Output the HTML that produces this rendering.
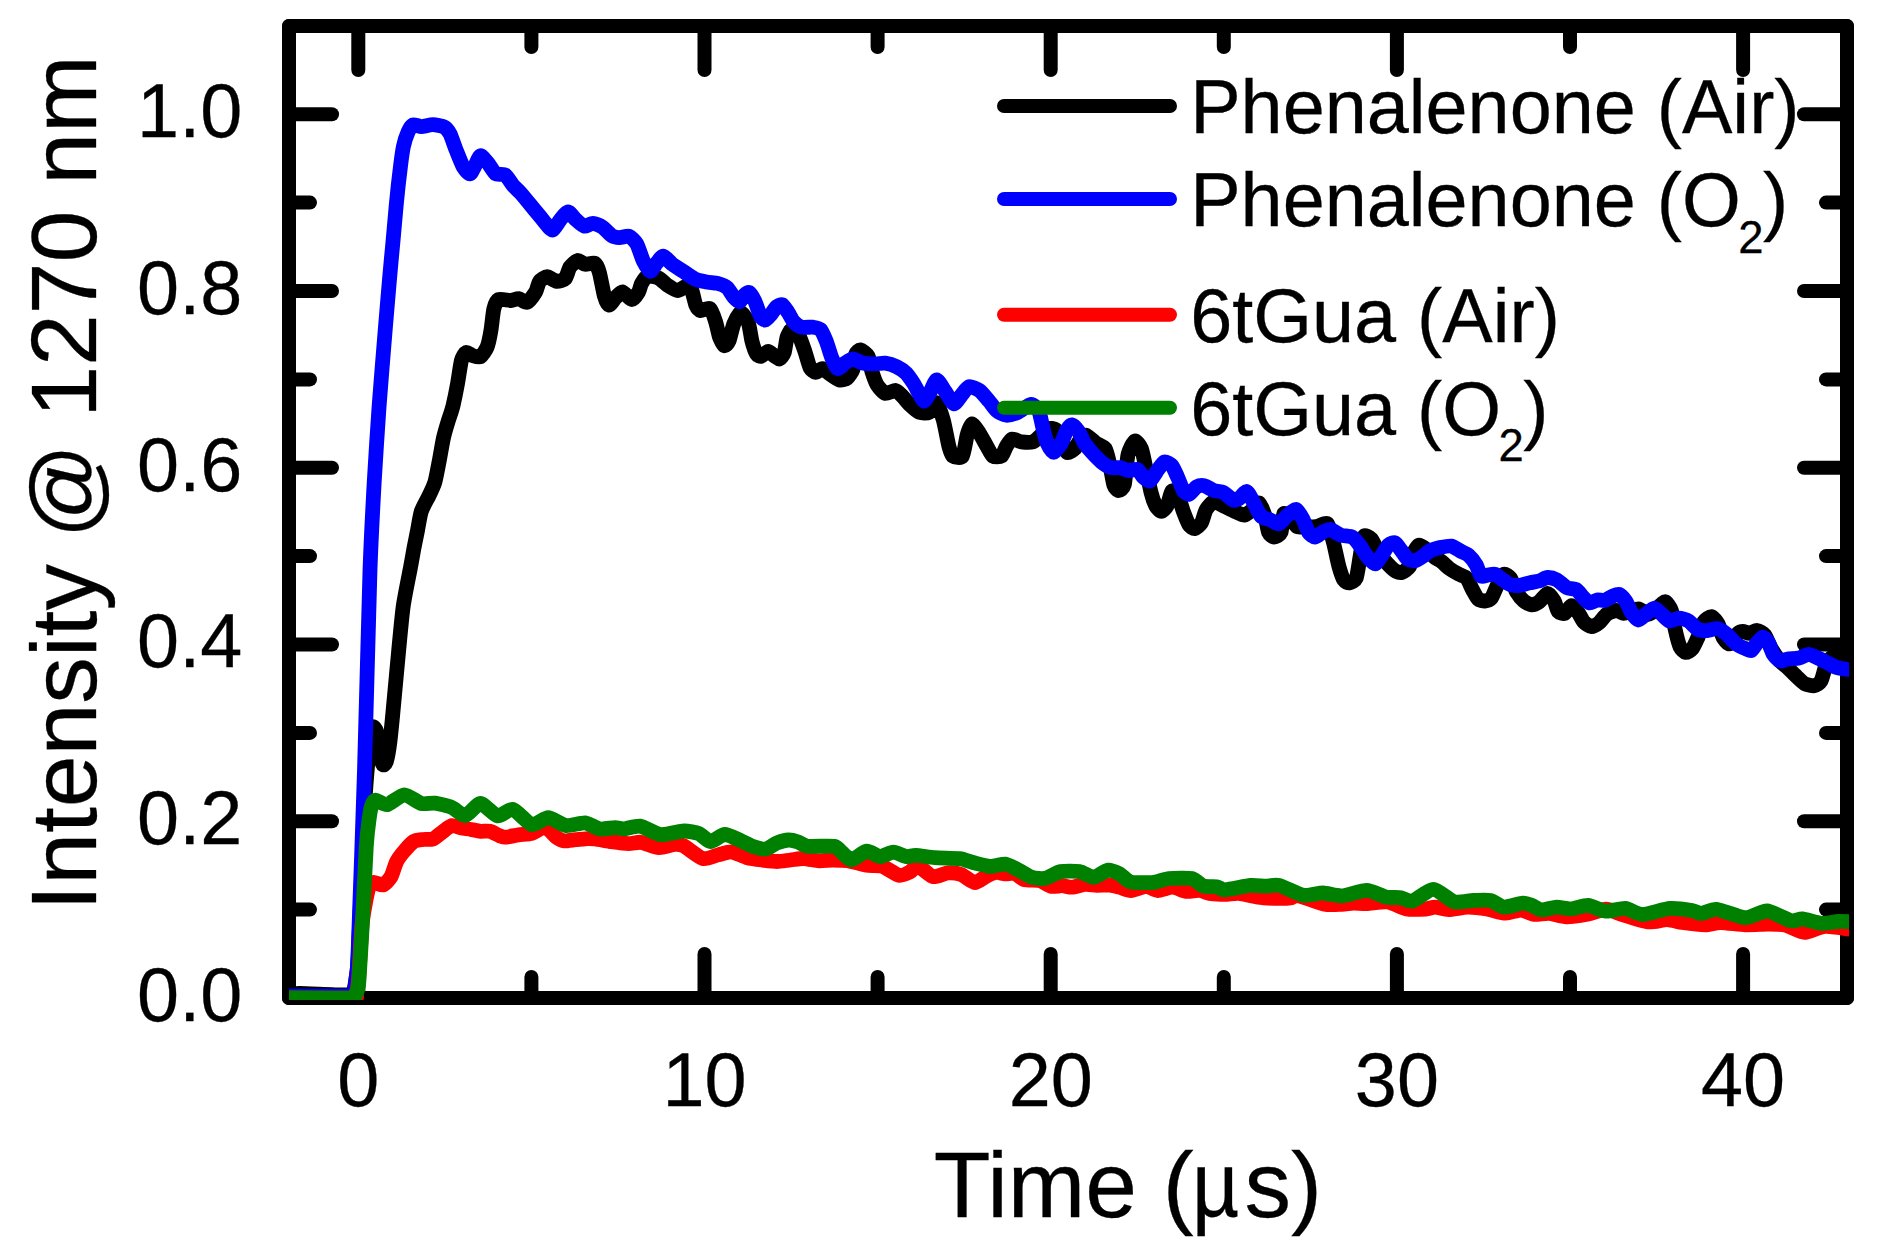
<!DOCTYPE html>
<html lang="en">
<head>
<meta charset="utf-8">
<title>Intensity @ 1270 nm vs Time</title>
<style>
html,body{margin:0;padding:0;background:#fff;}
body{width:1880px;height:1260px;overflow:hidden;}
svg{display:block;}
text{font-family:"Liberation Sans",Arial,Helvetica,sans-serif;fill:#000;stroke:#000;stroke-width:0.3px;}
.tl text{font-size:75.6px;}
.lg text{font-size:75.6px;}
.ax{font-size:93px;}
.ay{font-size:93.1px;}
.sub{font-size:45.4px;}
.crv path{fill:none;stroke-width:14.8;stroke-linejoin:round;stroke-linecap:butt;}
</style>
</head>
<body>
<svg width="1880" height="1260" viewBox="0 0 1880 1260">
<defs><clipPath id="pc"><rect x="289" y="19" width="1560" height="981"/></clipPath></defs>
<rect x="0" y="0" width="1880" height="1260" fill="#fff"/>
<g stroke="#000" stroke-width="14" stroke-linecap="round" fill="none">
<rect x="289" y="26" width="1558" height="972" stroke-linejoin="round"/>
<line x1="358.3" y1="998" x2="358.3" y2="954"/>
<line x1="358.3" y1="26" x2="358.3" y2="70"/>
<line x1="704.5" y1="998" x2="704.5" y2="954"/>
<line x1="704.5" y1="26" x2="704.5" y2="70"/>
<line x1="1050.7" y1="998" x2="1050.7" y2="954"/>
<line x1="1050.7" y1="26" x2="1050.7" y2="70"/>
<line x1="1396.9" y1="998" x2="1396.9" y2="954"/>
<line x1="1396.9" y1="26" x2="1396.9" y2="70"/>
<line x1="1743.1" y1="998" x2="1743.1" y2="954"/>
<line x1="1743.1" y1="26" x2="1743.1" y2="70"/>
<line x1="531.4" y1="998" x2="531.4" y2="977"/>
<line x1="531.4" y1="26" x2="531.4" y2="47"/>
<line x1="877.6" y1="998" x2="877.6" y2="977"/>
<line x1="877.6" y1="26" x2="877.6" y2="47"/>
<line x1="1223.8" y1="998" x2="1223.8" y2="977"/>
<line x1="1223.8" y1="26" x2="1223.8" y2="47"/>
<line x1="1570.0" y1="998" x2="1570.0" y2="977"/>
<line x1="1570.0" y1="26" x2="1570.0" y2="47"/>
<line x1="289" y1="998.0" x2="332" y2="998.0"/>
<line x1="1847" y1="998.0" x2="1804" y2="998.0"/>
<line x1="289" y1="821.2" x2="332" y2="821.2"/>
<line x1="1847" y1="821.2" x2="1804" y2="821.2"/>
<line x1="289" y1="644.5" x2="332" y2="644.5"/>
<line x1="1847" y1="644.5" x2="1804" y2="644.5"/>
<line x1="289" y1="467.7" x2="332" y2="467.7"/>
<line x1="1847" y1="467.7" x2="1804" y2="467.7"/>
<line x1="289" y1="291.0" x2="332" y2="291.0"/>
<line x1="1847" y1="291.0" x2="1804" y2="291.0"/>
<line x1="289" y1="114.2" x2="332" y2="114.2"/>
<line x1="1847" y1="114.2" x2="1804" y2="114.2"/>
<line x1="289" y1="909.6" x2="310" y2="909.6"/>
<line x1="1847" y1="909.6" x2="1826" y2="909.6"/>
<line x1="289" y1="732.9" x2="310" y2="732.9"/>
<line x1="1847" y1="732.9" x2="1826" y2="732.9"/>
<line x1="289" y1="556.1" x2="310" y2="556.1"/>
<line x1="1847" y1="556.1" x2="1826" y2="556.1"/>
<line x1="289" y1="379.4" x2="310" y2="379.4"/>
<line x1="1847" y1="379.4" x2="1826" y2="379.4"/>
<line x1="289" y1="202.6" x2="310" y2="202.6"/>
<line x1="1847" y1="202.6" x2="1826" y2="202.6"/>
<line x1="289" y1="25.9" x2="310" y2="25.9"/>
<line x1="1847" y1="25.9" x2="1826" y2="25.9"/>
</g>
<g class="crv" clip-path="url(#pc)">
<path stroke="#000000" d="M289.0 995.0C290.2 994.8 293.8 993.5 300.0 993.5C306.2 993.5 339.2 995.2 345.0 995.0C350.8 994.8 351.7 994.2 353.0 992.0C354.3 989.8 355.9 979.6 356.5 975.0C357.1 970.4 357.6 969.2 358.5 950.0C359.4 930.8 363.7 823.1 365.0 800.0C366.3 776.9 369.2 748.0 370.0 740.0C370.8 732.0 371.8 728.1 372.5 727.0C373.2 725.9 375.3 728.5 376.0 730.0C376.7 731.5 377.9 737.3 378.6 741.0C379.3 744.7 381.6 761.5 382.4 763.8C383.2 766.1 385.4 764.5 386.2 762.0C387.0 759.5 389.2 747.5 390.0 741.0C390.8 734.5 392.9 712.8 393.8 702.9C394.7 693.0 397.6 662.1 398.6 651.4C399.6 640.7 402.0 614.7 403.3 605.7C404.6 596.7 408.8 576.2 410.0 570.0C411.2 563.8 413.0 553.4 413.8 549.0C414.6 544.6 416.8 534.2 417.6 530.0C418.4 525.8 420.1 514.8 421.4 511.0C422.7 507.2 427.5 498.8 429.0 495.7C430.5 492.6 433.6 486.4 434.8 482.4C436.0 478.4 438.6 464.3 439.5 459.5C440.4 454.7 442.4 442.8 443.3 438.6C444.2 434.4 447.0 425.0 448.1 421.4C449.2 417.8 451.9 410.4 452.9 406.2C453.9 402.0 456.7 388.3 457.6 383.3C458.5 378.3 460.5 363.9 461.4 360.5C462.3 357.1 464.9 353.0 466.2 352.5C467.5 352.0 471.3 355.2 472.9 355.7C474.5 356.2 478.9 357.6 480.5 356.7C482.1 355.8 485.9 350.0 487.1 347.1C488.3 344.2 490.3 334.2 491.0 330.0C491.7 325.8 493.0 312.4 493.8 309.0C494.6 305.6 496.7 300.4 498.6 299.5C500.5 298.6 508.8 300.6 511.0 300.5C513.2 300.4 516.8 298.4 518.6 298.6C520.4 298.8 525.2 303.1 527.1 302.4C529.0 301.7 534.3 294.2 535.7 291.9C537.1 289.6 538.2 283.1 539.5 281.4C540.8 279.7 545.2 276.7 547.1 276.7C549.0 276.7 554.7 281.2 556.7 281.4C558.7 281.6 563.7 280.2 565.2 278.6C566.7 277.0 568.6 269.1 570.0 267.1C571.4 265.1 575.9 260.8 577.6 260.5C579.3 260.2 583.3 264.0 585.2 264.3C587.1 264.6 593.2 262.4 594.8 263.3C596.4 264.2 598.5 269.3 599.5 272.9C600.5 276.5 603.3 292.1 604.3 295.7C605.3 299.3 607.7 305.0 609.0 305.2C610.3 305.4 614.2 299.1 615.7 297.6C617.2 296.1 620.6 291.7 622.4 291.9C624.2 292.1 630.1 299.5 631.9 299.5C633.7 299.5 637.6 293.6 638.6 291.9C639.6 290.2 640.5 285.5 641.4 283.8C642.3 282.1 645.2 276.8 647.1 276.2C649.0 275.6 656.3 277.1 658.6 278.1C660.9 279.1 666.0 284.3 668.1 285.7C670.2 287.1 675.5 290.5 677.6 290.5C679.7 290.5 685.5 285.6 687.1 285.7C688.7 285.8 691.1 288.9 692.0 291.0C692.9 293.1 694.8 302.7 695.7 304.8C696.6 306.9 698.9 310.1 700.5 310.5C702.1 310.9 708.3 307.3 710.0 308.6C711.7 309.9 714.7 318.8 715.7 321.9C716.7 325.0 718.6 334.5 719.5 337.1C720.4 339.7 723.3 345.3 724.3 345.7C725.3 346.1 728.0 343.4 729.0 341.0C730.0 338.6 732.5 326.9 733.8 323.8C735.1 320.7 738.9 312.6 740.5 312.4C742.1 312.2 746.8 318.8 748.1 321.9C749.4 325.0 751.0 337.4 751.9 341.0C752.8 344.6 755.7 352.6 756.7 354.3C757.7 356.0 760.1 356.5 761.4 356.2C762.7 355.9 766.6 351.4 768.1 351.4C769.6 351.4 773.5 355.4 774.8 356.2C776.1 357.0 778.5 359.4 779.5 359.0C780.5 358.6 783.5 354.8 784.3 352.4C785.1 350.0 786.3 339.6 787.1 337.1C787.9 334.6 790.5 329.5 791.9 329.5C793.3 329.5 798.0 334.6 799.5 337.1C801.0 339.6 804.0 349.0 805.2 352.4C806.4 355.8 808.8 365.4 810.0 367.6C811.2 369.8 814.3 372.3 815.7 372.4C817.1 372.5 820.9 368.5 822.4 368.6C823.9 368.7 827.1 372.0 829.0 373.3C830.9 374.6 837.5 379.5 839.5 380.0C841.5 380.5 845.6 379.3 847.1 378.1C848.6 376.9 852.0 372.1 852.9 369.5C853.8 366.9 854.9 356.5 855.7 354.3C856.5 352.1 859.1 349.7 860.5 349.9C861.9 350.1 866.8 353.8 868.1 356.2C869.4 358.6 870.9 368.3 871.9 371.4C872.9 374.5 875.6 382.4 877.1 384.8C878.6 387.2 883.2 392.7 885.2 393.3C887.2 393.9 893.8 390.2 895.7 390.5C897.6 390.8 900.8 394.6 902.4 396.2C904.0 397.8 908.1 403.0 910.0 404.8C911.9 406.6 917.4 411.6 919.5 412.4C921.6 413.2 927.1 413.4 929.0 412.4C930.9 411.4 935.1 402.1 936.7 402.9C938.3 403.7 941.9 415.2 943.3 420.0C944.7 424.8 947.9 442.7 949.0 446.7C950.1 450.7 951.4 455.2 952.9 456.2C954.4 457.2 960.8 458.5 962.4 456.2C964.0 453.9 966.1 438.8 967.1 435.2C968.1 431.6 970.5 424.0 971.9 423.8C973.3 423.6 977.8 430.8 979.5 433.3C981.2 435.8 985.6 444.2 987.1 446.7C988.6 449.2 991.3 455.2 992.9 456.2C994.5 457.2 999.9 457.2 1001.4 456.2C1002.9 455.2 1005.0 448.6 1006.2 446.7C1007.4 444.8 1010.2 439.5 1011.9 439.0C1013.6 438.5 1019.1 441.6 1021.4 441.9C1023.7 442.2 1030.9 442.5 1032.9 441.9C1034.9 441.3 1038.3 437.5 1040.0 436.0C1041.7 434.5 1046.4 429.3 1048.1 428.6C1049.8 427.9 1054.3 428.5 1055.7 429.5C1057.1 430.5 1059.7 435.5 1061.0 438.0C1062.3 440.5 1065.6 451.2 1067.1 452.4C1068.6 453.6 1073.4 450.0 1074.8 448.6C1076.2 447.2 1078.7 441.5 1080.0 440.0C1081.3 438.5 1084.5 434.9 1086.2 435.2C1087.9 435.5 1093.6 441.4 1095.7 442.9C1097.8 444.4 1103.6 446.1 1105.2 448.6C1106.8 451.1 1109.1 461.7 1110.0 465.7C1110.9 469.7 1112.9 482.1 1113.8 484.8C1114.7 487.5 1117.4 490.5 1118.6 490.5C1119.8 490.5 1123.3 488.8 1124.3 484.8C1125.3 480.8 1126.9 459.1 1128.1 454.3C1129.3 449.5 1133.3 441.6 1134.8 441.0C1136.3 440.4 1140.1 445.5 1141.4 448.6C1142.7 451.7 1145.1 464.7 1146.2 469.5C1147.3 474.3 1150.0 488.4 1151.0 492.4C1152.0 496.4 1154.6 503.6 1155.7 505.7C1156.8 507.8 1160.1 511.4 1161.4 511.4C1162.7 511.4 1165.9 507.9 1167.1 505.7C1168.3 503.5 1170.7 492.3 1171.9 491.0C1173.1 489.7 1176.3 492.1 1177.6 494.3C1178.9 496.5 1182.0 508.0 1183.3 511.4C1184.6 514.8 1187.7 522.9 1189.0 524.8C1190.3 526.7 1193.4 528.8 1194.8 528.6C1196.2 528.4 1200.1 525.0 1201.4 522.9C1202.7 520.8 1204.8 511.8 1206.2 509.5C1207.6 507.2 1211.7 502.2 1213.8 501.9C1215.9 501.6 1222.9 505.7 1225.2 506.7C1227.5 507.7 1232.7 510.5 1234.8 511.4C1236.9 512.3 1242.4 515.4 1244.3 515.2C1246.2 515.0 1250.4 511.4 1252.0 510.0C1253.6 508.6 1257.6 502.3 1259.0 502.9C1260.4 503.5 1263.7 512.0 1264.8 515.2C1265.9 518.4 1267.6 530.0 1268.6 532.4C1269.6 534.8 1272.9 537.1 1274.3 537.1C1275.7 537.1 1280.0 535.0 1281.0 532.4C1282.0 529.8 1282.8 515.3 1283.8 513.7C1284.8 512.1 1288.5 516.6 1290.0 518.0C1291.5 519.4 1295.5 525.7 1297.1 526.7C1298.7 527.7 1302.7 526.7 1304.8 526.7C1306.9 526.7 1313.7 527.0 1316.2 526.7C1318.7 526.4 1325.7 522.1 1327.6 523.8C1329.5 525.5 1332.0 537.2 1333.3 541.9C1334.6 546.6 1337.8 562.5 1339.0 566.7C1340.2 570.9 1342.6 578.2 1343.8 580.0C1345.0 581.8 1348.1 583.1 1349.5 582.9C1350.9 582.7 1355.0 580.9 1356.2 578.1C1357.4 575.3 1359.2 561.7 1360.0 557.1C1360.8 552.5 1362.5 538.6 1363.8 536.6C1365.1 534.6 1369.7 537.2 1371.4 539.0C1373.1 540.8 1377.1 550.5 1379.0 553.3C1380.9 556.1 1386.7 562.8 1388.6 564.8C1390.5 566.8 1394.7 570.6 1396.2 571.4C1397.7 572.2 1400.4 572.9 1401.9 572.4C1403.4 571.9 1408.2 568.8 1409.5 566.7C1410.8 564.6 1412.3 555.7 1413.3 553.3C1414.3 550.9 1417.5 545.5 1419.0 545.1C1420.5 544.7 1425.0 548.2 1426.7 549.5C1428.4 550.8 1432.6 555.7 1434.3 557.1C1436.0 558.5 1440.2 560.6 1441.9 561.9C1443.6 563.2 1447.6 567.2 1449.5 568.6C1451.4 570.0 1457.1 573.3 1459.0 574.3C1460.9 575.3 1465.2 576.4 1466.7 578.1C1468.2 579.8 1471.1 587.2 1472.4 589.5C1473.7 591.8 1476.7 597.7 1478.1 599.0C1479.5 600.3 1483.3 601.1 1484.8 601.0C1486.3 600.9 1490.0 599.8 1491.4 598.1C1492.8 596.4 1495.7 588.3 1497.1 585.7C1498.5 583.1 1502.3 575.1 1503.8 574.3C1505.3 573.5 1509.1 576.2 1510.5 578.1C1511.9 580.0 1514.7 588.9 1516.2 591.4C1517.7 593.9 1522.1 599.5 1523.8 601.0C1525.5 602.5 1529.7 604.7 1531.4 604.8C1533.1 604.9 1537.2 603.3 1539.0 602.0C1540.8 600.7 1545.9 593.4 1547.6 593.3C1549.3 593.2 1553.1 599.0 1554.3 601.0C1555.5 603.0 1556.9 610.0 1558.1 611.4C1559.3 612.8 1563.3 613.9 1564.8 613.3C1566.3 612.7 1569.9 605.8 1571.4 605.7C1572.9 605.6 1576.7 610.6 1578.1 612.4C1579.5 614.2 1582.3 620.3 1583.8 621.9C1585.3 623.5 1589.7 626.6 1591.4 626.7C1593.1 626.8 1597.3 624.3 1599.0 622.9C1600.7 621.5 1604.8 615.7 1606.7 614.3C1608.6 612.9 1614.3 610.6 1616.2 610.5C1618.1 610.4 1622.2 613.2 1623.8 613.3C1625.4 613.4 1629.3 611.5 1631.0 611.0C1632.7 610.5 1637.1 608.6 1639.0 609.0C1640.9 609.4 1646.8 614.2 1648.6 614.3C1650.4 614.4 1653.5 611.2 1655.0 610.0C1656.5 608.8 1660.7 604.7 1661.9 603.8C1663.1 602.9 1664.7 601.2 1665.7 601.9C1666.7 602.6 1670.4 607.5 1671.4 610.5C1672.4 613.5 1674.3 625.5 1675.2 629.5C1676.1 633.5 1678.8 644.2 1680.0 646.7C1681.2 649.2 1684.3 652.2 1685.7 652.4C1687.1 652.6 1691.0 650.3 1692.4 648.6C1693.8 646.9 1696.8 640.0 1698.1 637.1C1699.4 634.2 1702.3 624.2 1703.8 621.9C1705.3 619.6 1709.8 616.4 1711.4 616.6C1713.0 616.8 1716.8 621.5 1718.1 623.8C1719.4 626.1 1721.7 634.9 1722.9 637.1C1724.1 639.3 1727.5 643.4 1728.6 643.8C1729.7 644.2 1732.0 642.2 1733.0 641.0C1734.0 639.8 1737.0 634.4 1738.1 633.3C1739.2 632.2 1741.6 631.4 1742.9 631.4C1744.2 631.4 1747.9 633.4 1749.5 633.3C1751.1 633.2 1755.4 630.3 1757.1 630.5C1758.8 630.7 1763.3 633.3 1764.8 635.2C1766.3 637.1 1769.4 645.3 1771.0 648.0C1772.6 650.7 1777.2 657.8 1779.0 660.0C1780.8 662.2 1785.8 665.9 1787.6 667.6C1789.4 669.3 1793.3 673.4 1795.2 675.2C1797.1 677.0 1802.7 682.6 1804.8 683.8C1806.9 685.0 1812.5 686.0 1814.3 685.7C1816.1 685.4 1819.7 683.2 1821.0 681.0C1822.3 678.8 1824.6 668.6 1825.7 666.0C1826.8 663.4 1830.0 658.4 1831.4 657.5C1832.8 656.6 1835.4 657.2 1838.0 658.0C1840.6 658.8 1853.1 664.2 1855.0 665.0"/>
<path stroke="#0000ff" d="M289.0 996.0C295.7 996.0 342.9 996.4 350.0 996.0C357.1 995.6 353.3 994.3 354.0 992.0C354.7 989.7 356.1 979.1 356.5 975.0C356.9 970.9 357.1 977.5 358.0 955.0C358.9 932.5 363.2 812.4 364.5 770.0C365.8 727.6 368.9 601.6 370.0 570.0C371.1 538.4 373.2 500.4 374.2 482.4C375.2 464.4 377.9 423.0 379.1 406.2C380.3 389.4 384.1 343.8 385.2 330.0C386.3 316.2 388.6 290.1 389.4 280.5C390.2 270.9 392.1 250.8 392.9 242.4C393.7 234.0 395.5 212.7 396.3 204.3C397.1 195.9 399.7 172.5 400.5 166.2C401.3 159.9 402.5 150.9 403.3 147.1C404.1 143.3 407.0 134.3 408.1 131.9C409.2 129.5 411.4 125.5 412.9 124.9C414.4 124.3 419.2 126.6 421.4 126.6C423.6 126.6 430.4 124.6 432.9 124.7C435.4 124.8 442.4 126.1 444.3 127.1C446.2 128.1 448.7 131.4 450.0 133.8C451.3 136.2 454.2 145.3 455.7 149.0C457.2 152.7 461.7 164.4 463.3 167.1C464.9 169.8 468.7 173.9 470.0 173.8C471.3 173.7 473.6 168.2 474.8 166.2C476.0 164.2 479.0 156.0 480.5 155.7C482.0 155.4 486.4 161.3 488.1 163.3C489.8 165.3 493.8 172.5 495.7 173.8C497.6 175.1 503.3 173.5 505.2 174.8C507.1 176.1 511.2 183.2 512.9 185.2C514.6 187.2 518.6 190.8 520.5 192.9C522.4 195.0 527.9 201.8 530.0 204.3C532.1 206.8 537.6 213.4 539.5 215.7C541.4 218.0 545.6 223.6 547.1 225.2C548.6 226.8 551.4 230.6 552.9 230.0C554.4 229.4 558.8 221.5 560.5 219.5C562.2 217.5 566.4 211.9 568.1 211.9C569.8 211.9 573.9 217.9 575.7 219.5C577.5 221.1 582.4 225.8 584.3 226.2C586.2 226.6 590.9 223.2 592.9 223.3C594.9 223.4 600.3 225.7 602.4 227.1C604.5 228.5 610.0 234.5 611.9 235.7C613.8 236.9 617.6 237.5 619.5 237.6C621.4 237.7 627.1 235.6 629.0 236.3C630.9 237.0 635.1 241.1 636.7 243.8C638.3 246.5 641.8 258.0 643.3 261.0C644.8 264.0 648.5 271.2 650.0 271.4C651.5 271.6 655.2 264.6 656.7 262.9C658.2 261.2 661.6 256.1 663.3 256.2C665.0 256.3 669.7 262.1 671.9 263.8C674.1 265.5 680.8 269.7 683.3 271.4C685.8 273.1 692.3 277.8 694.8 279.0C697.3 280.2 703.7 281.4 706.2 281.9C708.7 282.4 715.3 282.8 717.6 283.4C719.9 284.0 725.3 286.1 727.1 287.6C728.9 289.1 732.4 295.5 733.8 297.1C735.2 298.7 738.3 302.1 739.5 301.9C740.7 301.7 743.3 296.2 744.3 295.2C745.3 294.2 747.8 291.8 749.0 292.4C750.2 293.0 753.5 298.4 754.8 301.0C756.1 303.6 759.4 314.1 760.5 316.2C761.6 318.3 764.0 320.2 765.2 320.0C766.4 319.8 769.7 315.8 771.0 314.3C772.3 312.8 775.4 307.7 776.7 306.7C778.0 305.7 781.1 304.2 782.4 304.8C783.7 305.4 786.8 310.5 788.1 312.4C789.4 314.3 792.3 320.3 793.8 321.9C795.3 323.5 799.3 326.6 801.4 327.2C803.5 327.8 810.8 326.9 812.9 327.2C815.0 327.5 819.0 328.0 820.5 329.5C822.0 331.0 824.9 337.9 826.2 341.0C827.5 344.1 830.6 355.1 831.9 358.1C833.2 361.1 836.1 368.1 837.6 368.6C839.1 369.1 843.5 364.0 845.2 362.9C846.9 361.8 851.0 359.0 852.9 359.0C854.8 359.0 859.9 362.4 862.4 362.9C864.9 363.4 873.2 363.8 875.7 363.8C878.2 363.8 882.9 362.9 885.2 363.2C887.5 363.5 894.4 365.6 896.7 366.7C899.0 367.8 904.3 371.4 906.2 373.3C908.1 375.2 912.3 381.5 913.8 383.8C915.3 386.1 918.3 392.4 919.5 394.3C920.7 396.2 923.1 401.2 924.3 401.0C925.5 400.8 928.6 394.7 930.0 392.4C931.4 390.1 935.0 380.1 936.7 380.0C938.4 379.9 943.3 388.8 945.2 391.4C947.1 394.0 952.0 403.4 953.8 403.8C955.6 404.2 959.7 397.1 961.4 395.2C963.1 393.3 967.0 387.2 969.0 386.7C971.0 386.2 977.3 388.9 979.5 390.5C981.7 392.1 987.1 398.8 989.0 401.0C990.9 403.2 994.8 408.9 996.7 410.5C998.6 412.1 1003.9 415.0 1006.2 415.2C1008.5 415.4 1014.9 413.6 1017.6 412.4C1020.3 411.2 1028.7 404.6 1031.0 404.4C1033.3 404.2 1037.3 408.2 1038.6 410.5C1039.9 412.8 1041.5 422.1 1042.4 425.7C1043.3 429.3 1045.8 440.0 1047.1 442.9C1048.4 445.8 1052.2 452.4 1053.8 452.4C1055.4 452.4 1059.9 445.4 1061.4 442.9C1062.9 440.4 1065.9 431.5 1067.1 429.5C1068.3 427.5 1070.6 424.6 1071.9 424.8C1073.2 425.0 1077.2 429.4 1078.6 431.4C1080.0 433.4 1082.8 440.6 1084.3 442.9C1085.8 445.2 1090.0 450.3 1091.9 452.4C1093.8 454.5 1099.3 460.2 1101.4 461.9C1103.5 463.6 1108.9 467.0 1111.0 467.6C1113.1 468.2 1118.6 467.3 1120.5 467.6C1122.4 467.9 1126.2 470.3 1128.1 470.5C1130.0 470.7 1135.9 468.8 1137.6 469.5C1139.3 470.2 1141.9 475.8 1143.3 477.1C1144.7 478.4 1148.5 481.6 1150.0 481.0C1151.5 480.4 1155.1 473.5 1156.7 471.4C1158.3 469.3 1162.6 462.5 1164.3 461.9C1166.0 461.3 1170.4 464.0 1171.9 465.7C1173.4 467.4 1176.3 474.4 1177.6 477.1C1178.9 479.8 1182.0 488.6 1183.3 490.5C1184.6 492.4 1187.5 494.7 1189.0 494.3C1190.5 493.9 1195.0 487.6 1196.7 486.7C1198.4 485.8 1202.4 485.3 1204.3 485.7C1206.2 486.1 1211.7 489.8 1213.8 490.5C1215.9 491.2 1221.2 491.4 1223.3 492.4C1225.4 493.4 1231.2 499.3 1232.9 500.0C1234.6 500.7 1237.1 499.9 1238.6 499.0C1240.1 498.1 1245.1 491.1 1246.7 491.4C1248.3 491.7 1251.7 499.2 1253.3 501.9C1254.9 504.6 1259.1 514.2 1261.0 516.2C1262.9 518.2 1268.5 519.2 1270.5 520.0C1272.5 520.8 1277.1 524.3 1279.0 523.8C1280.9 523.3 1285.7 516.8 1287.6 515.2C1289.5 513.6 1294.5 509.1 1296.2 509.5C1297.9 509.9 1301.5 516.5 1302.9 519.0C1304.3 521.5 1307.2 530.4 1308.6 532.4C1310.0 534.4 1313.5 537.2 1315.2 537.1C1316.9 537.0 1322.1 532.2 1323.8 531.4C1325.5 530.6 1328.6 529.1 1330.5 529.5C1332.4 529.9 1338.6 534.4 1341.0 535.2C1343.4 536.0 1350.3 535.9 1352.4 537.1C1354.5 538.3 1358.3 543.5 1360.0 545.7C1361.7 547.9 1365.9 555.1 1367.6 557.1C1369.3 559.1 1373.6 564.0 1375.2 563.8C1376.8 563.6 1380.4 557.3 1381.9 555.2C1383.4 553.1 1387.1 546.2 1388.6 544.8C1390.1 543.4 1393.7 542.2 1395.2 542.9C1396.7 543.6 1400.5 549.6 1401.9 551.4C1403.3 553.2 1406.1 558.0 1407.6 559.0C1409.1 560.0 1413.5 560.9 1415.2 560.6C1416.9 560.3 1421.2 557.3 1422.9 556.2C1424.6 555.1 1428.6 551.4 1430.5 550.5C1432.4 549.6 1437.7 548.1 1440.0 547.6C1442.3 547.1 1449.1 545.7 1451.4 546.1C1453.7 546.5 1459.1 550.4 1461.0 551.4C1462.9 552.4 1466.9 553.7 1468.6 555.2C1470.3 556.7 1474.8 562.5 1476.2 564.8C1477.6 567.1 1479.7 575.1 1481.0 576.2C1482.3 577.3 1486.0 575.4 1487.6 575.2C1489.2 575.0 1493.5 573.8 1495.2 574.3C1496.9 574.8 1501.2 578.8 1502.9 580.0C1504.6 581.2 1508.6 584.2 1510.5 584.8C1512.4 585.4 1517.9 585.5 1520.0 585.3C1522.1 585.1 1527.4 583.4 1529.5 582.9C1531.6 582.4 1537.0 581.6 1539.0 581.0C1541.0 580.4 1545.6 577.6 1547.6 577.5C1549.6 577.4 1555.0 578.9 1557.1 580.0C1559.2 581.1 1564.6 586.6 1566.7 587.6C1568.8 588.6 1574.4 588.5 1576.2 589.5C1578.0 590.5 1581.4 595.6 1582.9 597.1C1584.4 598.6 1587.9 602.6 1589.5 602.9C1591.1 603.2 1595.4 600.3 1597.1 600.0C1598.8 599.7 1603.1 600.8 1604.8 600.4C1606.5 600.0 1610.8 596.9 1612.4 596.2C1614.0 595.5 1617.5 593.8 1619.0 594.3C1620.5 594.8 1624.3 599.0 1625.7 601.0C1627.1 603.0 1630.0 610.3 1631.4 612.4C1632.8 614.5 1636.5 619.8 1638.1 620.0C1639.7 620.2 1643.9 615.6 1645.7 614.3C1647.5 613.0 1652.5 608.2 1654.3 608.2C1656.1 608.2 1660.2 612.9 1661.9 614.3C1663.6 615.7 1667.6 620.6 1669.5 621.0C1671.4 621.4 1676.9 618.1 1679.0 618.1C1681.1 618.1 1686.5 619.7 1688.6 621.0C1690.7 622.3 1696.0 628.5 1698.1 629.5C1700.2 630.5 1705.5 630.6 1707.6 630.5C1709.7 630.4 1715.0 628.2 1717.1 628.6C1719.2 629.0 1724.6 632.6 1726.7 634.3C1728.8 636.0 1734.1 642.2 1736.2 643.8C1738.3 645.4 1744.0 647.9 1745.7 648.6C1747.4 649.3 1750.1 651.1 1751.4 650.5C1752.7 649.9 1755.8 644.4 1757.1 642.9C1758.4 641.4 1761.6 637.1 1762.9 637.1C1764.2 637.1 1767.5 641.0 1768.6 642.9C1769.7 644.8 1772.0 652.3 1773.3 654.3C1774.6 656.3 1778.4 660.5 1780.0 661.0C1781.6 661.5 1785.5 659.3 1787.6 659.0C1789.7 658.7 1796.7 658.6 1799.0 658.1C1801.3 657.6 1806.5 654.3 1808.6 654.3C1810.7 654.3 1816.0 657.2 1818.1 658.1C1820.2 659.0 1825.5 661.9 1827.6 662.9C1829.7 663.9 1834.1 666.8 1837.1 667.6C1840.1 668.4 1853.0 670.2 1855.0 670.5"/>
<path stroke="#ff0000" d="M289.0 998.0C295.9 998.0 344.6 998.4 352.0 998.0C359.4 997.6 355.3 996.0 356.0 994.0C356.7 992.0 357.8 987.6 358.5 980.0C359.2 972.4 361.2 933.8 362.0 925.0C362.8 916.2 365.2 904.3 366.0 900.0C366.8 895.7 368.6 887.9 369.5 886.0C370.4 884.1 372.3 882.5 373.8 882.4C375.3 882.3 381.4 885.5 383.3 884.9C385.2 884.3 389.5 879.3 391.0 876.7C392.5 874.1 395.2 864.2 396.7 861.4C398.2 858.6 402.4 853.2 404.3 851.0C406.2 848.8 411.7 842.7 413.8 841.4C415.9 840.1 421.2 839.8 423.3 839.5C425.4 839.2 430.8 839.8 432.9 839.0C435.0 838.2 440.3 833.4 442.4 831.9C444.5 830.4 449.8 826.0 451.9 825.6C454.0 825.2 459.3 827.7 461.4 828.1C463.5 828.5 468.9 829.0 471.0 829.4C473.1 829.8 478.4 831.1 480.5 831.3C482.6 831.5 487.9 830.8 490.0 831.3C492.1 831.8 497.8 835.1 499.5 835.7C501.2 836.3 503.1 837.3 505.2 837.2C507.3 837.1 515.7 835.2 518.6 834.8C521.5 834.4 529.0 834.2 531.9 833.4C534.8 832.6 542.5 826.6 545.2 827.1C547.9 827.6 554.6 836.1 556.7 837.6C558.8 839.1 562.2 840.7 564.3 840.9C566.4 841.1 573.4 839.9 575.7 839.7C578.0 839.5 583.1 838.9 585.2 838.8C587.3 838.7 591.9 838.7 594.8 839.0C597.7 839.3 607.7 841.2 611.4 841.7C615.1 842.2 625.3 843.5 628.6 843.6C631.9 843.7 637.7 841.9 641.0 842.3C644.3 842.7 655.3 847.4 659.0 847.6C662.7 847.8 672.3 844.6 675.0 844.4C677.7 844.2 680.7 844.3 683.8 845.9C686.9 847.5 699.1 857.5 702.9 858.5C706.7 859.5 715.0 855.6 718.1 854.9C721.2 854.2 728.3 851.5 731.4 851.8C734.5 852.1 743.3 856.6 746.7 857.5C750.1 858.4 758.6 859.6 761.9 860.0C765.2 860.4 774.0 861.5 777.1 861.5C780.2 861.5 787.6 860.3 790.5 860.0C793.4 859.7 800.7 858.4 803.8 858.5C806.9 858.6 815.9 860.6 819.0 860.8C822.1 861.0 829.3 860.0 832.4 860.0C835.5 860.0 843.8 860.0 847.6 860.6C851.4 861.2 862.9 864.7 866.7 865.3C870.5 865.9 878.3 865.0 881.9 866.1C885.5 867.2 895.9 874.6 899.0 875.2C902.1 875.8 908.0 873.0 910.0 872.0C912.0 871.0 915.1 865.2 917.6 865.7C920.1 866.2 929.5 875.8 932.9 876.6C936.3 877.4 945.0 873.0 948.1 872.8C951.2 872.6 958.5 873.6 961.4 874.7C964.3 875.8 972.1 882.3 974.8 882.5C977.5 882.7 983.9 877.3 986.2 876.2C988.5 875.1 993.6 872.7 995.7 872.4C997.8 872.1 1003.1 873.8 1005.2 873.9C1007.3 874.0 1012.7 872.7 1014.8 873.3C1016.9 873.9 1021.6 878.8 1024.3 879.6C1027.0 880.4 1036.6 879.9 1039.5 880.6C1042.4 881.3 1048.5 885.7 1051.0 886.3C1053.5 886.9 1060.1 885.6 1062.4 885.7C1064.7 885.8 1069.4 887.3 1071.9 887.2C1074.4 887.1 1082.5 884.6 1085.2 884.4C1087.9 884.2 1094.0 885.2 1096.7 885.3C1099.4 885.4 1107.5 884.9 1110.0 885.1C1112.5 885.3 1117.2 886.6 1119.5 887.2C1121.8 887.8 1128.1 890.6 1131.0 890.5C1133.9 890.4 1143.3 886.3 1146.2 886.3C1149.1 886.3 1154.7 890.4 1157.6 890.5C1160.5 890.6 1169.8 887.1 1172.9 887.2C1176.0 887.3 1183.3 891.0 1186.2 891.4C1189.1 891.8 1196.8 890.2 1199.5 890.5C1202.2 890.8 1208.2 893.3 1211.0 893.7C1213.8 894.1 1221.9 894.4 1225.0 894.4C1228.1 894.4 1235.4 893.1 1239.0 893.4C1242.6 893.7 1253.9 896.7 1258.1 897.2C1262.3 897.8 1273.5 898.3 1277.1 898.4C1280.7 898.5 1288.2 898.3 1290.5 898.0C1292.8 897.7 1294.3 895.0 1298.1 895.7C1301.9 896.4 1320.0 903.4 1324.8 904.3C1329.6 905.2 1338.8 904.4 1341.9 904.3C1345.0 904.2 1350.6 903.1 1353.3 903.0C1356.0 902.9 1362.9 903.8 1366.7 903.7C1370.5 903.6 1383.2 901.4 1387.6 902.0C1392.0 902.6 1402.5 908.2 1406.7 909.0C1410.9 909.8 1422.6 909.2 1425.7 909.0C1428.8 908.8 1432.7 907.0 1435.2 907.1C1437.7 907.2 1445.0 909.6 1448.6 909.6C1452.2 909.6 1463.4 907.2 1467.6 907.1C1471.8 907.0 1482.5 908.3 1486.7 909.0C1490.9 909.7 1501.9 913.1 1505.7 913.2C1509.5 913.3 1517.9 909.9 1521.0 910.0C1524.1 910.1 1531.2 914.0 1534.3 914.4C1537.4 914.8 1545.5 913.0 1549.0 913.3C1552.5 913.6 1562.0 916.7 1566.2 916.8C1570.4 916.9 1582.7 915.1 1587.1 914.3C1591.5 913.5 1602.6 909.2 1606.2 909.1C1609.8 909.0 1614.9 912.3 1619.5 913.7C1624.1 915.1 1642.9 921.3 1648.1 921.9C1653.3 922.5 1663.3 919.5 1667.1 919.6C1670.9 919.7 1678.2 921.9 1682.4 922.5C1686.6 923.1 1701.0 924.8 1705.2 924.8C1709.4 924.8 1716.1 922.5 1720.5 922.5C1724.9 922.5 1740.0 924.6 1745.2 924.8C1750.4 925.0 1763.7 924.2 1768.1 924.2C1772.5 924.2 1781.2 924.2 1785.2 925.1C1789.2 926.0 1799.9 932.3 1804.3 932.4C1808.7 932.5 1819.6 926.6 1825.2 926.3C1830.8 926.0 1851.7 929.5 1855.0 929.9"/>
<path stroke="#008000" d="M289.0 998.0C295.7 998.0 342.8 998.2 350.0 998.0C357.2 997.8 353.7 996.9 354.5 996.0C355.3 995.1 357.0 991.8 357.5 990.0C358.0 988.2 358.5 986.9 359.0 979.5C359.5 972.1 361.6 937.1 362.4 922.4C363.2 907.7 365.6 857.5 366.3 846.2C367.0 834.9 368.4 824.4 369.0 820.0C369.6 815.6 370.8 808.2 371.5 806.0C372.2 803.8 374.0 800.2 375.7 800.1C377.4 800.0 384.0 805.3 387.1 804.7C390.2 804.1 400.5 794.9 404.3 794.8C408.1 794.7 418.0 802.6 421.4 803.5C424.8 804.4 431.4 802.7 434.8 803.1C438.2 803.5 448.6 806.1 451.9 807.5C455.2 808.9 462.1 816.1 465.2 815.7C468.3 815.3 476.9 803.5 480.5 803.5C484.1 803.5 494.0 815.3 497.6 815.9C501.2 816.5 509.1 808.4 512.9 809.4C516.7 810.4 528.0 823.8 531.9 824.7C535.8 825.6 544.3 817.5 548.1 817.6C551.9 817.7 562.1 825.0 566.2 825.6C570.3 826.2 581.5 822.4 585.2 822.8C588.9 823.2 596.7 828.5 600.0 829.0C603.3 829.5 612.5 827.6 615.2 827.6C617.9 827.6 622.1 829.0 624.8 828.8C627.5 828.6 636.0 825.5 640.0 826.1C644.0 826.7 656.2 834.2 661.0 834.7C665.8 835.2 679.6 831.1 683.8 831.0C688.0 830.9 696.1 832.5 699.0 833.7C701.9 834.9 707.7 841.4 710.5 841.5C713.3 841.6 721.4 834.6 724.8 834.5C728.2 834.4 738.0 839.5 741.0 840.8C744.0 842.1 749.7 845.4 752.4 846.3C755.1 847.2 763.0 849.4 765.7 849.0C768.4 848.6 774.6 843.9 777.1 842.9C779.6 841.9 786.3 840.1 788.6 840.0C790.9 839.9 796.0 841.2 798.1 841.9C800.2 842.6 803.6 845.8 807.6 846.3C811.6 846.8 830.5 845.6 834.3 846.3C838.1 847.0 840.0 850.9 841.9 852.4C843.8 853.9 848.7 859.9 851.4 859.8C854.1 859.7 863.6 851.6 866.7 851.2C869.8 850.8 877.1 856.5 880.0 856.6C882.9 856.7 890.4 852.2 893.3 852.2C896.2 852.2 904.2 856.2 906.7 856.6C909.2 857.0 912.6 855.3 915.7 855.4C918.8 855.5 930.0 857.3 934.8 857.7C939.6 858.1 955.3 858.2 959.5 858.7C963.7 859.2 969.5 861.7 972.9 862.5C976.3 863.3 986.4 866.1 990.0 866.3C993.6 866.5 1002.1 863.8 1005.2 864.2C1008.3 864.6 1015.7 868.7 1018.6 870.1C1021.5 871.5 1029.0 876.4 1031.9 877.3C1034.8 878.2 1042.1 878.9 1045.2 878.3C1048.3 877.7 1056.7 872.3 1060.5 871.6C1064.3 870.9 1075.8 871.0 1079.5 871.6C1083.2 872.2 1090.7 877.5 1093.8 877.3C1096.9 877.1 1105.3 870.5 1108.1 870.1C1110.9 869.7 1117.0 872.6 1119.5 873.9C1122.0 875.2 1127.2 881.2 1131.0 882.1C1134.8 883.0 1149.6 882.7 1153.8 882.3C1158.0 881.9 1164.8 878.9 1169.0 878.5C1173.2 878.1 1188.1 877.7 1191.9 878.5C1195.7 879.3 1200.6 885.2 1203.3 886.1C1206.0 887.0 1214.3 886.3 1216.7 886.7C1219.1 887.1 1221.3 889.9 1225.0 889.8C1228.7 889.7 1246.0 885.8 1250.5 885.4C1255.0 885.0 1262.6 886.2 1265.7 886.2C1268.8 886.2 1274.8 884.4 1279.0 885.4C1283.2 886.4 1299.0 894.5 1303.8 895.3C1308.6 896.1 1318.7 892.9 1322.9 893.0C1327.1 893.1 1337.1 896.2 1341.9 895.9C1346.7 895.6 1361.9 890.3 1366.7 890.4C1371.5 890.5 1381.9 896.1 1385.7 896.9C1389.5 897.7 1398.1 897.3 1401.0 897.8C1403.9 898.3 1408.8 901.9 1412.4 901.0C1416.0 900.1 1428.7 889.3 1433.3 889.4C1437.9 889.5 1449.9 900.6 1454.3 901.8C1458.7 903.0 1469.3 900.6 1473.3 900.5C1477.3 900.4 1487.1 899.8 1490.5 900.5C1493.9 901.2 1500.2 906.8 1503.8 907.1C1507.4 907.4 1519.8 903.3 1522.9 903.1C1526.0 902.9 1530.0 904.8 1532.0 905.5C1534.0 906.2 1538.7 909.7 1541.4 909.9C1544.1 910.1 1553.4 907.3 1556.7 907.2C1560.0 907.1 1567.5 909.0 1571.0 908.8C1574.5 908.6 1584.2 905.2 1588.1 905.5C1592.0 905.8 1602.1 910.9 1606.2 911.2C1610.3 911.5 1621.2 908.0 1625.2 908.4C1629.2 908.8 1637.5 914.5 1642.4 914.5C1647.3 914.5 1664.6 908.8 1670.0 908.4C1675.4 908.0 1688.4 909.9 1691.9 910.5C1695.4 911.1 1698.7 913.6 1701.4 913.5C1704.1 913.4 1711.9 908.8 1716.7 909.3C1721.5 909.8 1739.7 917.5 1745.2 917.7C1750.7 917.9 1762.1 910.7 1767.1 911.0C1772.1 911.3 1787.1 919.9 1791.0 920.8C1794.9 921.7 1799.1 918.6 1802.4 918.9C1805.7 919.2 1817.4 923.1 1821.4 923.4C1825.4 923.7 1834.9 921.7 1838.6 921.5C1842.3 921.3 1853.2 921.9 1855.0 921.9"/>
</g>
<g class="tl">
<text x="242.2" y="1020.8" text-anchor="end">0.0</text>
<text x="242.2" y="844.0" text-anchor="end">0.2</text>
<text x="242.2" y="667.3" text-anchor="end">0.4</text>
<text x="242.2" y="490.5" text-anchor="end">0.6</text>
<text x="242.2" y="313.8" text-anchor="end">0.8</text>
<text x="242.2" y="137.1" text-anchor="end">1.0</text>
<text x="358.3" y="1105.8" text-anchor="middle">0</text>
<text x="704.5" y="1105.8" text-anchor="middle">10</text>
<text x="1050.7" y="1105.8" text-anchor="middle">20</text>
<text x="1396.9" y="1105.8" text-anchor="middle">30</text>
<text x="1743.1" y="1105.8" text-anchor="middle">40</text>
</g>
<text class="ax" x="933.8" y="1217">Time (</text>
<text class="ax" transform="translate(1191.9 1217) scale(0.88 1)">µ</text>
<text class="ax" x="1244.5" y="1217">s)</text>
<text class="ay" transform="translate(96 910.7) rotate(-90)">Intensity @ 1270 nm</text>
<g stroke-width="14" stroke-linecap="round">
<line x1="1004" y1="106" x2="1170" y2="106" stroke="#000000"/>
<line x1="1004" y1="199" x2="1170" y2="199" stroke="#0000ff"/>
<line x1="1004" y1="314.8" x2="1170" y2="314.8" stroke="#ff0000"/>
<line x1="1004" y1="407.8" x2="1170" y2="407.8" stroke="#008000"/>
</g>
<g class="lg">
<text x="1190.2" y="132.8">Phenalenone (Air)</text>
<text x="1190.2" y="225.7">Phenalenone (O<tspan class="sub" dy="27" dx="-2.5">2</tspan><tspan dy="-27" dx="-0.5">)</tspan></text>
<text x="1190.2" y="341.5">6tGua (Air)</text>
<text x="1190.2" y="434.5">6tGua (O<tspan class="sub" dy="26" dx="-2.5">2</tspan><tspan dy="-26" dx="-0.5">)</tspan></text>
</g>
</svg>
</body>
</html>
